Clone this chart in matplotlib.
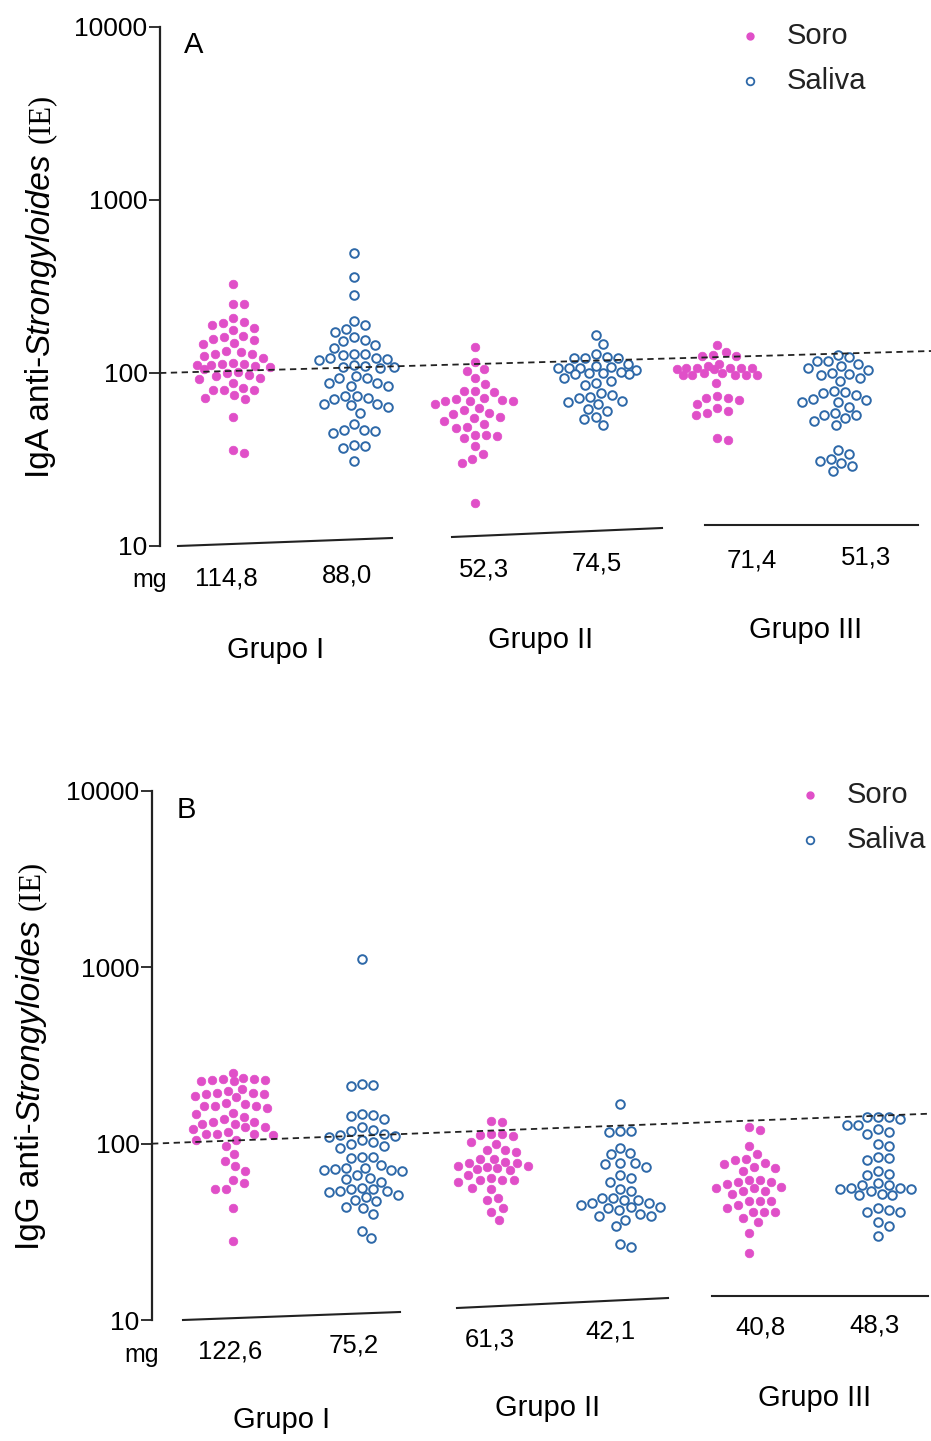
import numpy as np
import matplotlib
matplotlib.use("Agg")
import matplotlib.pyplot as plt
from matplotlib.lines import Line2D

W, H = 931, 1441
plt.rcParams['font.family'] = ['Liberation Sans', 'DejaVu Sans']

# ---- data ----
categories = ["Soro", "Saliva", "Soro", "Saliva", "Soro", "Saliva"]
groups = ["Grupo I", "Grupo II", "Grupo III"]

iga_soro_g1 = [327, 250, 250, 197, 189, 182, 194, 208, 177, 164, 157, 149, 155, 161, 147,
               132, 129, 125, 122, 129, 134, 113, 111, 108, 110, 113, 111, 114, 100, 97,
               94, 105, 96, 101, 92, 88, 80, 80, 75, 71, 72, 80, 82, 56, 34.5, 36]
iga_saliva_g1 = [496, 360, 282, 190, 180, 200, 173, 161, 153, 155, 145, 140, 122, 119, 129,
                 127, 129, 120, 122, 110, 108, 107, 108, 111, 94, 88, 84, 84, 88, 94, 96,
                 74, 66, 64, 72, 71, 65, 74, 66, 59, 51, 46, 45, 47, 47, 37, 38, 38.5, 31]
iga_soro_g2 = [142, 115, 105, 103, 93, 86, 78, 79, 79, 71, 69, 69, 69, 70, 72, 66, 63,
               59, 56, 58, 61, 55, 53, 49, 48, 51, 44, 43, 42, 44, 38, 32, 30, 34, 17.7]
iga_saliva_g2 = [166, 148, 122, 122, 122, 124, 129, 113, 107, 107, 104, 107, 108, 110, 99,
                 94, 99, 100, 100, 102, 88, 85, 90, 75, 72, 73, 77, 68, 66, 69, 56, 62, 60,
                 50, 54]
iga_soro_g3 = [146, 133, 125, 127, 125, 107, 98, 107, 98, 110, 98, 105, 112, 105, 98, 107,
               107, 98, 107, 100, 100, 88, 72, 70, 72, 74, 66, 63, 59, 57, 60, 41, 42]
iga_saliva_g3 = [123, 118, 118, 127, 112, 107, 100, 98, 94, 99, 104, 110, 90, 78, 77, 79,
                 75, 70, 68, 64, 68, 71, 57, 55, 50, 53, 57, 59, 36, 34, 32, 30, 31, 27, 29]

igg_soro_g1 = [232, 228, 226, 229, 231, 234, 236, 253, 200, 193, 191, 187, 191, 195, 204,
               171, 164, 159, 164, 164, 168, 183, 138, 132, 130, 150, 147, 130, 132, 142,
               114, 112, 125, 113, 124, 114, 116, 121, 105, 105, 97, 87, 80, 75, 70, 60,
               62, 55, 55, 43, 28]
igg_saliva_g1 = [1112, 216, 213, 219, 144, 146, 138, 147, 118, 114, 109, 105, 110, 112, 120,
                 124, 97, 102, 95, 100, 84, 84, 83, 73, 70, 71, 71, 72, 73, 76, 66, 63, 61,
                 64, 55, 54, 53, 55, 50, 51, 54, 56, 47, 43, 40, 44, 48, 29, 32]
igg_soro_g2 = [134, 132, 113, 111, 112, 114, 102, 100, 92, 92, 90, 82, 79, 82, 78, 73, 71,
               75, 72, 74, 75, 78, 62, 62, 61, 66, 62, 64, 55, 56, 48, 49, 43, 41, 37]
igg_saliva_g2 = [168, 117, 118, 118, 89, 95, 87, 78, 77, 74, 78, 66, 61, 64, 55, 54, 45, 44,
                 48, 49, 49, 46, 48, 44, 46, 39, 42, 40, 43, 37, 34, 39, 26, 27]
igg_soro_g3 = [120, 125, 97, 87, 81, 82, 78, 77, 74, 73, 70, 62, 62, 61, 59, 56, 54, 56, 57,
               61, 52, 54, 47, 43, 47, 45, 47, 41, 41, 41, 36, 38, 31, 24]
igg_saliva_g3 = [128, 141, 138, 141, 142, 121, 117, 128, 114, 97, 100, 83, 81, 84, 67, 66,
                 70, 55, 58, 56, 60, 58, 54, 55, 56, 52, 51, 51, 41, 42, 43, 41, 36, 34, 30]

iga_mg = ["114,8", "88,0", "52,3", "74,5", "71,4", "51,3"]
igg_mg = ["122,6", "75,2", "61,3", "42,1", "40,8", "48,3"]

iga_cutoff = [100, 134]   # dashed line, left end / right end
igg_cutoff = [100, 148]

SORO_C = "#e04fc8"
SALIVA_C = "#2d68a8"


def fx(px):
    return px / W


def fy(py):
    return 1 - py / H


def swarm(values, px_dec, d=11.0, maxw=40):
    # beeswarm in pixel space, capped width; returns x offsets in px
    y = np.log10(np.asarray(values, float)) * px_dec
    xs = np.zeros(len(y))
    placed_x, placed_y = [], []
    cands = np.arange(-maxw, maxw + 1, 1.0)
    cands = cands[np.argsort(np.abs(cands) + 0.01 * (cands < 0))]
    for i in np.argsort(-y):
        if placed_x:
            px = np.array(placed_x)
            py = np.array(placed_y)
            dist = np.sqrt((cands[:, None] - px[None, :]) ** 2 + (y[i] - py[None, :]) ** 2).min(axis=1)
            ok = np.where(dist >= d)[0]
            chosen = cands[ok[0]] if len(ok) else cands[np.argmax(dist)]
        else:
            chosen = 0.0
        xs[i] = chosen
        placed_x.append(chosen)
        placed_y.append(y[i])
    return xs


def panel(rect, series, x0px, unit, cutoff, letter, letter_pos, ylabel_main, label_x,
          label_y0, legend_pos, baselines, mg_labels, mg_pos, mg_word, group_pos):
    ax = fig.add_axes(rect)
    ax_left_px = rect[0] * W
    ax_right_px = (rect[0] + rect[2]) * W
    px_dec = rect[3] * H / 3.0
    ax.set_xlim((ax_left_px - x0px) / unit, (ax_right_px - x0px) / unit)
    ax.set_yscale("log")
    ax.set_ylim(10, 10000)
    ax.set_yticks([10, 100, 1000, 10000])
    ax.set_yticklabels(["10", "100", "1000", "10000"])
    ax.yaxis.set_minor_locator(matplotlib.ticker.NullLocator())
    ax.tick_params(axis="y", length=8, width=1.3, pad=1, labelsize=19, color="#222")
    ax.set_xticks([])
    for s in ["top", "right", "bottom"]:
        ax.spines[s].set_visible(False)
    ax.spines["left"].set_linewidth(1.6)
    ax.spines["left"].set_color("#222")

    for i, vals in enumerate(series):
        off = swarm(vals, px_dec) / unit
        if i % 2 == 0:
            ax.plot(i + off, vals, "o", ms=6.2, mfc=SORO_C, mec=SORO_C, mew=0.5,
                    ls="none", clip_on=False)
        else:
            ax.plot(i + off, vals, "o", ms=6.2, mfc="white", mec=SALIVA_C, mew=1.4,
                    ls="none", clip_on=False)

    xl = ax.get_xlim()
    ax.plot(xl, cutoff, ls=(0, (3.5, 2.5)), color="#222", lw=1.3, zorder=5)

    fig.text(fx(letter_pos[0]), fy(letter_pos[1]), letter, fontsize=21, va="top", ha="left")

    # legend
    lx, ly = legend_pos
    fig.add_artist(Line2D([fx(lx)], [fy(ly)], marker="o", ms=5, mfc=SORO_C, mec=SORO_C,
                          ls="none"))
    fig.add_artist(Line2D([fx(lx)], [fy(ly + 45)], marker="o", ms=5.5, mfc="white",
                          mec=SALIVA_C, mew=1.3, ls="none"))
    fig.text(fx(lx + 37), fy(ly), "Soro", fontsize=21, va="center", ha="left", color="#222")
    fig.text(fx(lx + 37), fy(ly + 45), "Saliva", fontsize=21, va="center", ha="left",
             color="#222")

    # group baselines
    for (a, b, c, d) in baselines:
        fig.add_artist(Line2D([fx(a), fx(c)], [fy(b), fy(d)], color="#222", lw=1.5))

    # mg row
    fig.text(fx(mg_word[0]), fy(mg_word[1]), "mg", fontsize=18, ha="center", va="center")
    for lab, (px, py) in zip(mg_labels, mg_pos):
        fig.text(fx(px), fy(py), lab, fontsize=18.5, ha="center", va="center")
    for g, (px, py) in zip(groups, group_pos):
        fig.text(fx(px), fy(py), g, fontsize=21, ha="center", va="center")

    # y label: mixed fonts, stacked bottom to top
    fig.canvas.draw()
    r = fig.canvas.get_renderer()
    y = fy(label_y0)
    parts = [(ylabel_main, {}, 0), ("Strongyloides", {"style": "italic"}, 0),
             ("(IE)", {"family": "Liberation Serif", "fontsize": 22}, 10)]
    for txt, kw, gap in parts:
        y += gap / H
        fs = kw.pop("fontsize", 24)
        t = fig.text(fx(label_x), y, txt, rotation=90, ha="center", va="bottom",
                     fontsize=fs, **kw)
        bb = t.get_window_extent(renderer=r)
        y += bb.height / H
    return ax


fig = plt.figure(figsize=(W / 100, H / 100), dpi=100)

panel([fx(160), fy(546), (931 - 160) / W, (546 - 27) / H],
      [iga_soro_g1, iga_saliva_g1, iga_soro_g2, iga_saliva_g2, iga_soro_g3, iga_saliva_g3],
      233, 121, iga_cutoff, "A", (184, 31), "IgA anti-", 41, 478, (750, 36),
      [(178, 546, 392, 538), (452, 537, 662, 528), (705, 525, 918, 525)],
      iga_mg, [(226, 578), (347, 575), (484, 570), (597, 563), (752, 560), (866, 557)],
      (150, 580), [(276, 650), (541, 640), (806, 630)])

panel([fx(152), fy(1320), (931 - 152) / W, (1320 - 791) / H],
      [igg_soro_g1, igg_saliva_g1, igg_soro_g2, igg_saliva_g2, igg_soro_g3, igg_saliva_g3],
      233, 129, igg_cutoff, "B", (177, 796), "IgG anti-", 31, 1250, (810, 795),
      [(183, 1320, 400, 1312), (457, 1308, 668, 1298), (712, 1296, 928, 1296)],
      igg_mg, [(230, 1352), (354, 1346), (490, 1340), (610, 1332), (760, 1328), (874, 1326)],
      (142, 1355), [(282, 1420), (548, 1408), (815, 1398)])

fig.savefig("out.png", dpi=100)
